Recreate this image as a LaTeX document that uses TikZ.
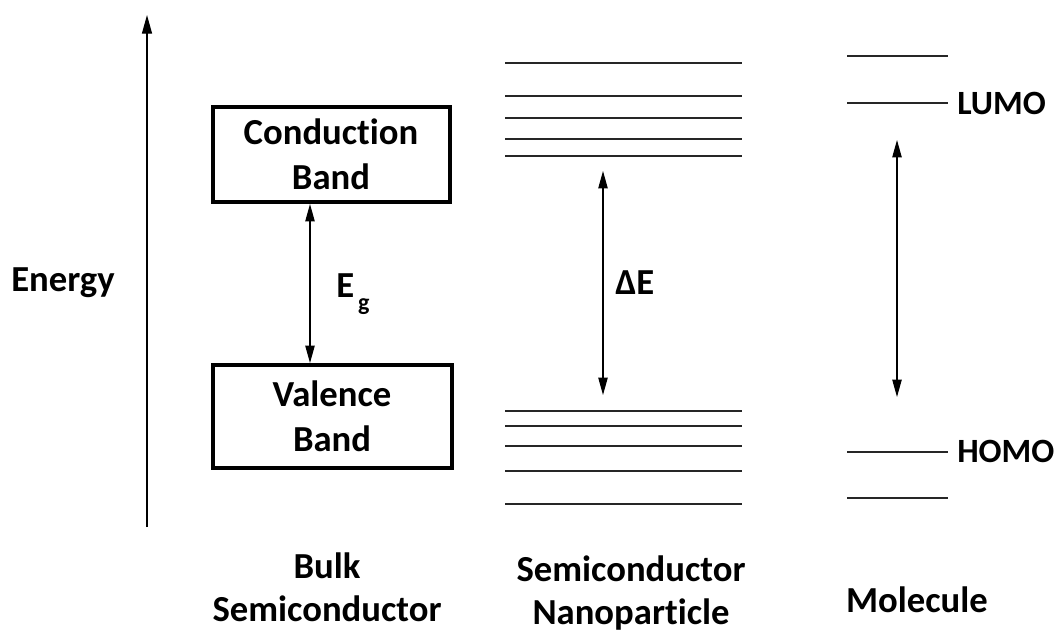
\documentclass[tikz,border=0pt]{standalone}
\usepackage{fontspec}
\setmainfont{Carlito}[Ligatures=NoCommon]
\usetikzlibrary{arrows.meta, positioning}

\begin{document}
\begin{tikzpicture}[
    x=0.75pt, y=-0.75pt,
    lbl/.style={font=\fontsize{27.5}{32}\selectfont\bfseries, align=center, inner sep=0pt},
    tag/.style={font=\fontsize{25.5}{30}\selectfont\bfseries, anchor=west, inner sep=0pt},
    band/.style={rectangle, draw=black, line width=3pt, align=center,
                 font=\fontsize{27.5}{34}\selectfont\bfseries},
    level/.style={line width=1.1pt, black!85},
    arrow/.style={{Triangle[length=13pt, width=7pt]}-{Triangle[length=13pt, width=7pt]}, line width=0.9pt},
    axis/.style={-{Triangle[length=14pt, width=7.5pt]}, line width=1pt}
  ]
    \useasboundingbox (0,0) rectangle (1054,632);

    % energy axis
    \coordinate (ebot) at (147,527);
    \coordinate (etop) at (147,15);
    \draw[axis] (ebot) -- (etop);
    \node[lbl, anchor=west] (energy) at (11,283) {Energy};

    % bulk semiconductor
    \node[band, minimum width=237*0.75pt, minimum height=95*0.75pt] (cb) at (331,154.5) {Conduction\\Band};
    \node[band, minimum width=239*0.75pt, minimum height=103*0.75pt] (vb) at (332,416.5) {Valence\\Band};
    \draw[arrow] (vb.north -| 310,0) -- (cb.south -| 310,0);
    \node[lbl, anchor=west] (eg) at (336,294) {E\raisebox{-0.75ex}{\fontsize{18}{18}\selectfont\,g}};

    % nanoparticle
    \foreach \yy in {63,96,118,139,156,411,426,446,471,504}
      \draw[level] (505,\yy) -- (742,\yy);
    \coordinate (nptop) at (603,171);
    \coordinate (npbot) at (603,395);
    \draw[arrow] (npbot) -- (nptop);
    \node[lbl, anchor=west] (de) at (615,283) {ΔE};

    % molecule
    \foreach \yy in {56,103,452,498}
      \draw[level] (847,\yy) -- (948,\yy);
    \node[tag] (lumo) at (957,103) {LUMO};
    \node[tag] (homo) at (957,451) {HOMO};
    \coordinate (moltop) at (897,140);
    \coordinate (molbot) at (897,397);
    \draw[arrow] (molbot) -- (moltop);

    % captions
    \node[lbl] (bulk) at (327,587) {Bulk\\Semiconductor};
    \node[lbl] (nano) at (631,593) {Semiconductor\\Nanoparticle};
    \node[lbl] (mol) at (917,600) {Molecule};
  \end{tikzpicture}
\end{document}
